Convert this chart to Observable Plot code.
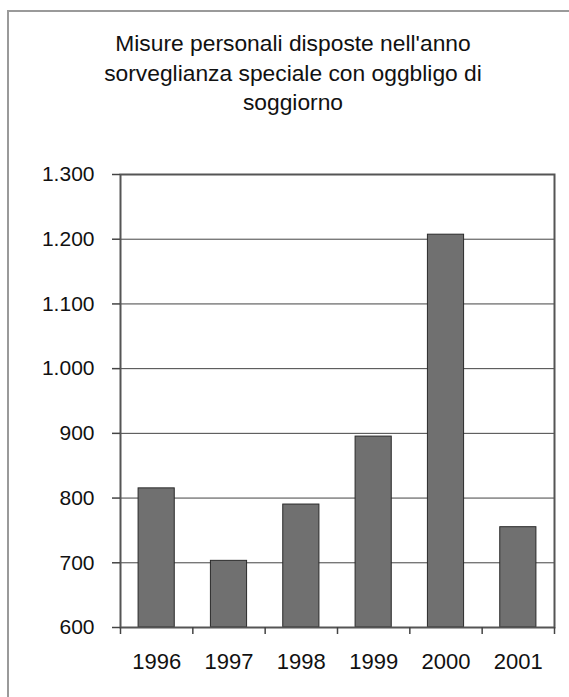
<!DOCTYPE html>
<html>
<head>
<meta charset="utf-8">
<script src="https://cdn.jsdelivr.net/npm/d3@7"></script>
<script src="https://cdn.jsdelivr.net/npm/@observablehq/plot@0.6"></script>
<style>
  html, body { margin: 0; padding: 0; background: #fff; overflow: hidden; }
  body { width: 569px; height: 697px; position: relative; font-family: "Liberation Sans", Arial, sans-serif; }
  #bleft { position: absolute; left: 7px; top: 10px; width: 2px; height: 687px; background: #9a9a9a; }
  #btop { position: absolute; left: 7px; top: 10px; width: 562px; height: 2px; background: #9a9a9a; }
  #title { position: absolute; left: 7px; width: 572px; top: 29px; text-align: center; font-size: 22.8px; line-height: 29.5px; color: #111; }
  #chart { position: absolute; left: 0; top: 0; }
</style>
</head>
<body>
<div id="bleft"></div>
<div id="btop"></div>
<div id="chart"></div>
<div id="title">Misure personali disposte nell'anno<br>sorveglianza speciale con oggbligo di<br>soggiorno</div>
<script>
const years = [1996, 1997, 1998, 1999, 2000, 2001];
const values = [815, 703, 790, 895, 1207, 755];
const yTicks = [600, 700, 800, 900, 1000, 1100, 1200, 1300];
const boundaries = [1995.5, 1996.5, 1997.5, 1998.5, 1999.5, 2000.5, 2001.5];

const data = years.map((year, i) => ({year, value: values[i]}));
const fmt = d3.formatLocale({decimal: ",", thousands: ".", grouping: [3], currency: ["", "€"]}).format(",");

const chart = Plot.plot({
  width: 569,
  height: 697,
  marginLeft: 120,
  marginRight: 15,
  marginTop: 174,
  marginBottom: 70,
  style: {fontFamily: "'Liberation Sans', Arial, sans-serif", fontSize: "21px", color: "#111", background: "transparent"},
  x: {domain: [1995.5, 2001.5], axis: null, label: null},
  y: {domain: [600, 1300], axis: null, label: null},
  marks: [
    Plot.gridY(yTicks, {stroke: "#444", strokeOpacity: 1, strokeWidth: 1}),
    Plot.rectY(data, {x1: d => d.year - 0.25, x2: d => d.year + 0.25, y1: 600, y2: "value", fill: "#707070", stroke: "#2a2a2a", strokeWidth: 1}),
    Plot.frame({stroke: "#555", strokeWidth: 2}),
    Plot.axisY(yTicks, {label: null, tickSize: 8, tickPadding: 18, tickFormat: fmt, stroke: "#444", strokeWidth: 1.5, fontSize: 21}),
    Plot.axisX(boundaries, {label: null, tickSize: 7, tickFormat: () => "", stroke: "#444", strokeWidth: 1.5}),
    Plot.axisX(years, {label: null, tickSize: 0, tickPadding: 26, tickFormat: d => String(d), fontSize: 22})
  ]
});
document.getElementById("chart").appendChild(chart);
</script>
</body>
</html>
